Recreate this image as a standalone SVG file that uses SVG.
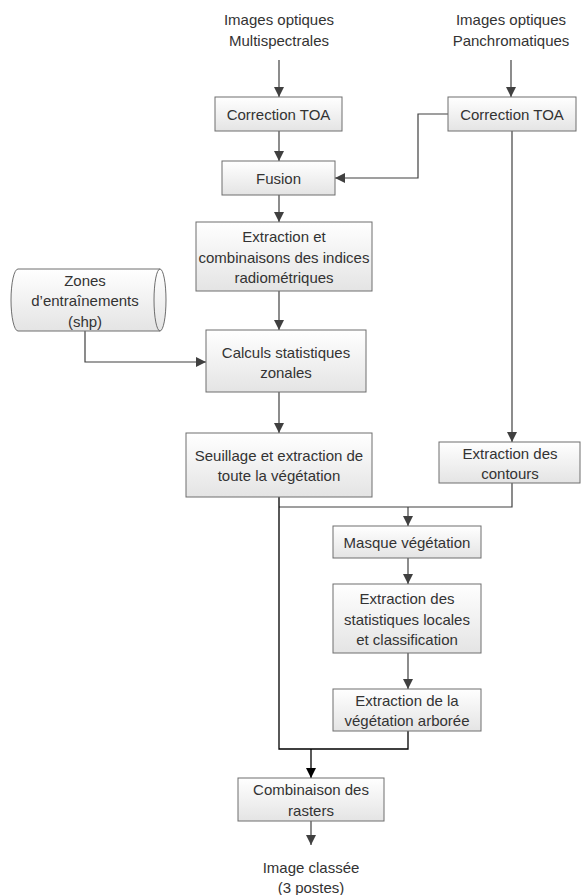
<svg xmlns="http://www.w3.org/2000/svg" width="584" height="895" viewBox="0 0 584 895">
<defs>
<linearGradient id="g" x1="0" y1="0" x2="0" y2="1">
<stop offset="0" stop-color="#ffffff"/>
<stop offset="1" stop-color="#e4e4e4"/>
</linearGradient>
<marker id="a" viewBox="0 0 10 10" refX="10" refY="5" markerWidth="10" markerHeight="10" markerUnits="userSpaceOnUse" orient="auto">
<path d="M0,0 L10,5 L0,10 z" fill="#404040"/>
</marker>
<marker id="ab" viewBox="0 0 10 10" refX="10" refY="5" markerWidth="10" markerHeight="10" markerUnits="userSpaceOnUse" orient="auto">
<path d="M0,0 L10,5 L0,10 z" fill="#000"/>
</marker>
</defs>
<style>
text{font-family:"Liberation Sans",Arial,sans-serif;font-size:15px;fill:#333;text-anchor:middle;dominant-baseline:central}
.box{fill:url(#g);stroke:#6e6e6e;stroke-width:1}
.c{fill:none;stroke:#404040;stroke-width:1.2}
.k{fill:none;stroke:#000;stroke-width:1.3}
</style>
<rect width="584" height="895" fill="#fff"/>
<g id="connectors">
<path class="c" d="M279,60 V97" marker-end="url(#a)"/>
<path class="c" d="M511,60 V97" marker-end="url(#a)"/>
<path class="c" d="M279,131 V161" marker-end="url(#a)"/>
<path class="c" d="M448,114 H418 V178 H335" marker-end="url(#a)"/>
<path class="c" d="M279,195 V222" marker-end="url(#a)"/>
<path class="c" d="M279,291 V330" marker-end="url(#a)"/>
<path class="c" d="M85,331 V362 H206" marker-end="url(#a)"/>
<path class="c" d="M279,392 V433" marker-end="url(#a)"/>
<path class="c" d="M512,131 V442" marker-end="url(#a)"/>
<path class="c" d="M512,483 V507 H279"/>
<path class="c" d="M408,507 V526" marker-end="url(#a)"/>
<path class="c" d="M408,558 V584" marker-end="url(#a)"/>
<path class="c" d="M408,653 V689" marker-end="url(#a)"/>
<path class="k" d="M279,497 V749 H408 V731"/>
<path class="k" d="M311,749 V778" marker-end="url(#ab)"/>
<path class="c" d="M311,821 V845" marker-end="url(#a)"/>
</g>
<g id="in-ms"><text x="279" y="19">Images optiques</text><text x="279" y="40">Multispectrales</text></g>
<g id="in-pan"><text x="511" y="19">Images optiques</text><text x="511" y="40">Panchromatiques</text></g>
<g id="toa-ms"><rect class="box" x="215" y="97" width="127" height="34"/><text x="278.5" y="114">Correction TOA</text></g>
<g id="toa-pan"><rect class="box" x="448" y="97" width="128" height="34"/><text x="512" y="114">Correction TOA</text></g>
<g id="fusion"><rect class="box" x="222" y="161" width="113" height="34"/><text x="278.5" y="178">Fusion</text></g>
<g id="indices"><rect class="box" x="196" y="222" width="176" height="69"/><text x="284" y="236">Extraction et</text><text x="284" y="257">combinaisons des indices</text><text x="284" y="277">radiométriques</text></g>
<g id="zones">
<path class="box" d="M18,269 H160 A6,31 0 0 1 160,331 H18 A7,31 0 0 1 18,269 z"/>
<path fill="none" stroke="#6e6e6e" d="M160,269 A6,31 0 0 0 160,331"/>
<text x="85" y="280">Zones</text><text x="85" y="300">d’entraînements</text><text x="85" y="321">(shp)</text>
</g>
<g id="calculs"><rect class="box" x="206" y="330" width="160" height="62"/><text x="286" y="352">Calculs statistiques</text><text x="286" y="372">zonales</text></g>
<g id="seuillage"><rect class="box" x="186" y="433" width="186" height="64"/><text x="279" y="455">Seuillage et extraction de</text><text x="279" y="475">toute la végétation</text></g>
<g id="contours"><rect class="box" x="439" y="442" width="141" height="41"/><text x="510" y="453">Extraction des</text><text x="510" y="473">contours</text></g>
<g id="masque"><rect class="box" x="333" y="526" width="148" height="32"/><text x="407" y="542">Masque végétation</text></g>
<g id="stats"><rect class="box" x="333" y="584" width="148" height="69"/><text x="407" y="598">Extraction des</text><text x="407" y="619">statistiques locales</text><text x="407" y="639">et classification</text></g>
<g id="arboree"><rect class="box" x="333" y="689" width="148" height="42"/><text x="407" y="700">Extraction de la</text><text x="407" y="720">végétation arborée</text></g>
<g id="combi"><rect class="box" x="238" y="778" width="146" height="43"/><text x="311" y="789">Combinaison des</text><text x="311" y="810">rasters</text></g>
<g id="out"><text x="311" y="867">Image classée</text><text x="311" y="887">(3 postes)</text></g>
</svg>
